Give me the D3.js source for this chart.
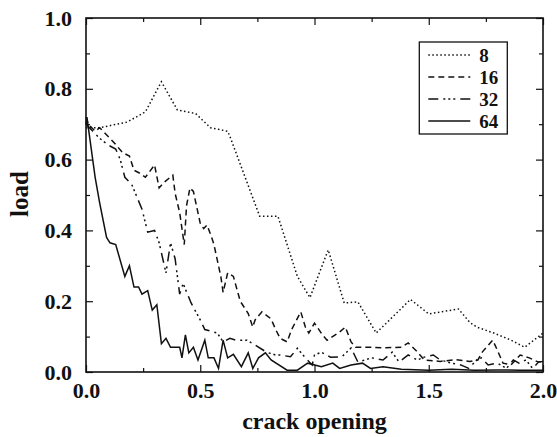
<!DOCTYPE html>
<html>
<head>
<meta charset="utf-8">
<script src="https://cdn.jsdelivr.net/npm/d3@7"></script>
<style>
  body { margin: 0; background: #fff; }
  svg text { font-family: "Liberation Serif", "DejaVu Serif", serif; font-weight: bold; fill: #111; }
</style>
</head>
<body>
<div id="vis"></div>
<script>
// data: crack opening (x) vs load (y) for 4 meshes
var x8 = [0, 0.06, 0.18, 0.26, 0.33, 0.40, 0.48, 0.545, 0.62, 0.63, 0.76, 0.84, 0.925, 0.98, 1.06, 1.13, 1.19, 1.27, 1.42, 1.50, 1.63, 1.68, 1.71, 1.785, 1.86, 1.92, 2.0];
var y8 = [0.69, 0.69, 0.706, 0.735, 0.82, 0.74, 0.73, 0.69, 0.68, 0.665, 0.44, 0.44, 0.27, 0.21, 0.345, 0.195, 0.198, 0.11, 0.205, 0.164, 0.178, 0.14, 0.127, 0.11, 0.09, 0.07, 0.11];

var x16 = [0, 0.01, 0.04, 0.06, 0.12, 0.16, 0.19, 0.21, 0.24, 0.26, 0.30, 0.32, 0.34, 0.38, 0.39, 0.41, 0.43, 0.44, 0.455, 0.47, 0.50, 0.515, 0.53, 0.55, 0.56, 0.59, 0.60, 0.62, 0.645, 0.675, 0.71, 0.73, 0.74, 0.77, 0.81, 0.83, 0.85, 0.88, 0.90, 0.94, 0.96, 0.975, 1.0, 1.035, 1.055, 1.11, 1.135, 1.16, 1.18, 1.245, 1.30, 1.38, 1.41, 1.45, 1.48, 1.55, 1.62, 1.68, 1.715, 1.735, 1.78, 1.80, 1.825, 1.86, 1.90, 1.94, 1.98, 2.0];
var y16 = [0.72, 0.70, 0.68, 0.69, 0.65, 0.62, 0.61, 0.57, 0.56, 0.55, 0.585, 0.52, 0.535, 0.556, 0.505, 0.45, 0.36, 0.47, 0.52, 0.51, 0.42, 0.405, 0.415, 0.38, 0.36, 0.27, 0.225, 0.28, 0.27, 0.20, 0.165, 0.127, 0.147, 0.17, 0.15, 0.12, 0.095, 0.085, 0.12, 0.17, 0.127, 0.11, 0.138, 0.105, 0.09, 0.113, 0.127, 0.085, 0.07, 0.07, 0.068, 0.07, 0.082, 0.057, 0.034, 0.03, 0.035, 0.03, 0.034, 0.057, 0.09, 0.062, 0.025, 0.02, 0.048, 0.04, 0.028, 0.03];

var x32 = [0, 0.03, 0.06, 0.10, 0.13, 0.15, 0.17, 0.20, 0.245, 0.27, 0.30, 0.32, 0.35, 0.37, 0.39, 0.41, 0.425, 0.46, 0.50, 0.52, 0.575, 0.60, 0.63, 0.655, 0.705, 0.74, 0.79, 0.83, 0.85, 0.895, 0.925, 0.96, 0.99, 1.0, 1.03, 1.07, 1.12, 1.16, 1.19, 1.25, 1.30, 1.34, 1.37, 1.41, 1.45, 1.48, 1.52, 1.55, 1.60, 1.64, 1.675, 1.71, 1.73, 1.76, 1.80, 1.84, 1.87, 1.895, 1.925, 1.955, 1.98, 2.0];
var y32 = [0.70, 0.68, 0.66, 0.64, 0.63, 0.60, 0.55, 0.53, 0.46, 0.395, 0.40, 0.365, 0.28, 0.365, 0.32, 0.22, 0.25, 0.195, 0.147, 0.12, 0.11, 0.085, 0.095, 0.09, 0.09, 0.076, 0.056, 0.048, 0.048, 0.043, 0.067, 0.04, 0.02, 0.048, 0.056, 0.042, 0.043, 0.068, 0.028, 0.04, 0.034, 0.056, 0.028, 0.048, 0.034, 0.042, 0.048, 0.034, 0.025, 0.02, 0.01, 0.034, 0.04, 0.02, 0.025, 0.01, 0.034, 0.025, 0.034, 0.01, 0.028, 0.03];

var x64 = [0, 0.004, 0.04, 0.06, 0.09, 0.105, 0.13, 0.17, 0.19, 0.21, 0.23, 0.245, 0.27, 0.29, 0.31, 0.33, 0.35, 0.37, 0.39, 0.41, 0.42, 0.435, 0.45, 0.47, 0.49, 0.52, 0.535, 0.56, 0.58, 0.60, 0.62, 0.645, 0.68, 0.71, 0.73, 0.755, 0.785, 0.81, 0.88, 0.925, 0.97, 1.03, 1.08, 1.11, 1.16, 1.21, 1.245, 1.30, 1.38, 1.5, 1.6, 1.7, 1.8, 1.9, 2.0];
var y64 = [0.70, 0.72, 0.55, 0.477, 0.38, 0.365, 0.36, 0.27, 0.30, 0.24, 0.24, 0.22, 0.23, 0.175, 0.19, 0.08, 0.095, 0.07, 0.07, 0.07, 0.04, 0.105, 0.054, 0.07, 0.034, 0.09, 0.04, 0.04, 0.01, 0.09, 0.04, 0.05, 0.015, 0.054, 0.01, 0.04, 0.054, 0.034, 0.005, 0.005, 0.025, 0.015, 0.025, 0.01, 0.02, 0.025, 0.01, 0.015, 0.008, 0.005, 0.008, 0.005, 0.006, 0.005, 0.005];

var names = ["8", "16", "32", "64"];
var xTicks = [0, 0.5, 1.0, 1.5, 2.0];
var yTicks = [0, 0.2, 0.4, 0.6, 0.8, 1.0];

var series = [
    {name: names[0], xs: x8, ys: y8, dash: "1.5,2.5"},
    {name: names[1], xs: x16, ys: y16, dash: "6,4"},
    {name: names[2], xs: x32, ys: y32, dash: "10,5,2,3,2,3,2,5"},
    {name: names[3], xs: x64, ys: y64, dash: null}
];

var margin = {top: 18, right: 14, bottom: 65, left: 86},
    width = 557 - margin.left - margin.right,
    height = 437 - margin.top - margin.bottom;

var x = d3.scaleLinear().domain([0, 2]).range([0, width]);
var y = d3.scaleLinear().domain([0, 1]).range([height, 0]);

var svg = d3.select("#vis")
    .append("svg")
    .attr("width", 557)
    .attr("height", 437)
    .append("g")
    .attr("transform", "translate(" + margin.left + "," + margin.top + ")");

// minor ticks, pointing into the plot
svg.append("g")
    .attr("transform", "translate(0," + height + ")")
    .call(d3.axisTop(x).tickValues([0.25, 0.75, 1.25, 1.75]).tickSize(4).tickFormat(""));
svg.append("g")
    .call(d3.axisRight(y).tickValues([0.1, 0.3, 0.5, 0.7, 0.9]).tickSize(4).tickFormat(""));
svg.append("g")
    .attr("transform", "translate(" + width + ",0)")
    .call(d3.axisLeft(y).tickValues([0.1, 0.3, 0.5, 0.7, 0.9]).tickSize(4).tickFormat(""));
svg.append("g")
    .call(d3.axisBottom(x).tickValues([0.25, 0.75, 1.25, 1.75]).tickSize(4).tickFormat(""));

// major ticks crossing the frame
svg.append("g")
    .attr("class", "axis x-axis")
    .attr("transform", "translate(0," + height + ")")
    .call(d3.axisBottom(x).tickValues(xTicks).tickSize(-7).tickPadding(10).tickFormat(d3.format(".1f")));
svg.append("g")
    .attr("class", "axis y-axis")
    .call(d3.axisLeft(y).tickValues(yTicks).tickSize(-7).tickPadding(14).tickFormat(d3.format(".1f")));
svg.append("g")
    .attr("transform", "translate(" + width + ",0)")
    .call(d3.axisRight(y).tickValues(yTicks).tickSize(-7).tickFormat(""));
svg.append("g")
    .call(d3.axisTop(x).tickValues(xTicks).tickSize(-7).tickFormat(""));

svg.selectAll(".domain").remove();
svg.selectAll(".tick line").attr("stroke", "#111").attr("stroke-width", 1.2);
svg.selectAll(".axis text")
    .style("font-size", "22px")
    .style("font-family", "Liberation Serif, serif")
    .style("font-weight", "bold")
    .attr("fill", "#111");
svg.selectAll(".x-axis .tick text").attr("dy", "0.72em");

// frame
svg.append("rect")
    .attr("width", width)
    .attr("height", height)
    .attr("fill", "none")
    .attr("stroke", "#111")
    .attr("stroke-width", 1.6);

var line = d3.line()
    .x(function (d) { return x(d[0]); })
    .y(function (d) { return y(d[1]); });

series.forEach(function (s) {
    var pts = s.xs.map(function (v, i) { return [v, s.ys[i]]; });
    svg.append("path")
        .attr("fill", "none")
        .attr("stroke", "#111")
        .attr("stroke-width", 1.5)
        .attr("stroke-dasharray", s.dash)
        .attr("d", line(pts));
});

// legend
var leg = svg.append("g")
    .attr("transform", "translate(" + (x(1.8) - 86 + 8) + ",24)");
leg.append("rect")
    .attr("x", 0).attr("y", 0)
    .attr("width", 88).attr("height", 92)
    .attr("fill", "#fff")
    .attr("stroke", "#111")
    .attr("stroke-width", 1.3);

series.forEach(function (s, i) {
    var ry = 13 + i * 22;
    leg.append("line")
        .attr("x1", 9).attr("x2", 51)
        .attr("y1", ry).attr("y2", ry)
        .attr("stroke", "#111")
        .attr("stroke-width", 1.5)
        .attr("stroke-dasharray", s.dash);
    leg.append("text")
        .attr("x", 60)
        .attr("y", ry)
        .attr("dy", "0.35em")
        .style("font-size", "19px")
        .text(s.name);
});

// axis titles
svg.append("text")
    .attr("text-anchor", "middle")
    .attr("x", width / 2)
    .attr("y", height + 57)
    .style("font-size", "24px")
    .text("crack opening");

svg.append("text")
    .attr("text-anchor", "middle")
    .attr("transform", "rotate(-90)")
    .attr("x", -(height / 2) + 1)
    .attr("y", -58)
    .style("font-size", "25px")
    .text("load");
</script>
</body>
</html>
